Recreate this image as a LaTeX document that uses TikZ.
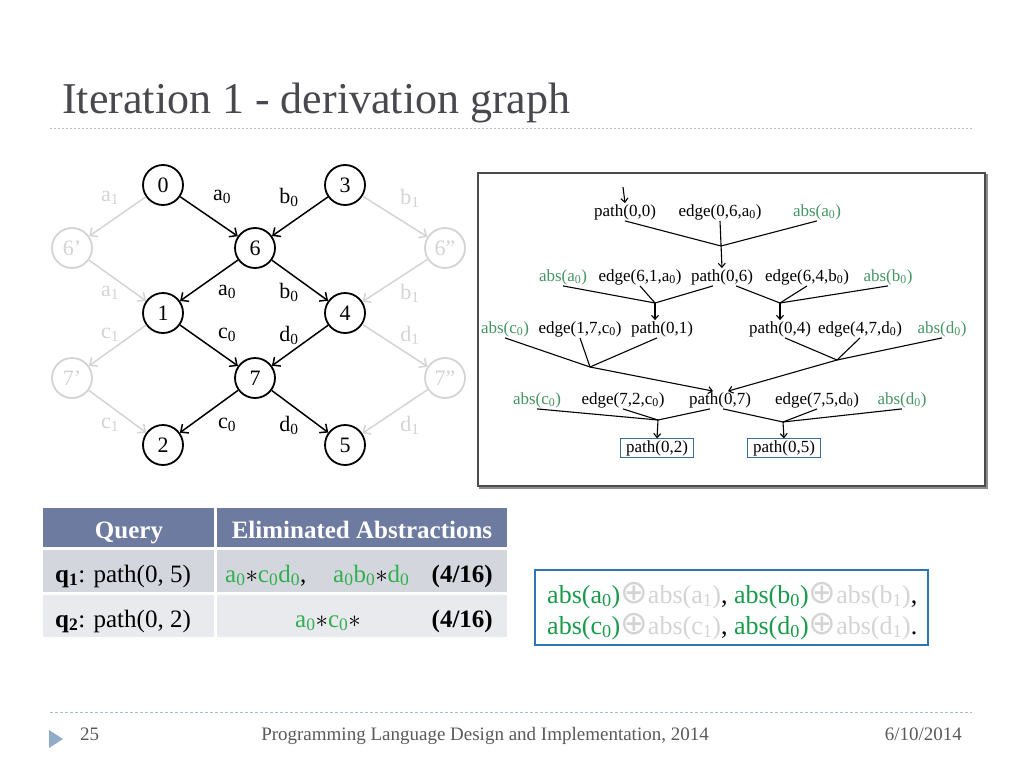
\documentclass[tikz,border=0pt]{standalone}
\usepackage{fontspec}
\setmainfont{Liberation Serif}
\newfontfamily\oplusfont{DejaVu Sans}
\usepackage{tikz}
\usetikzlibrary{arrows.meta}
\usetikzlibrary{positioning}
\colorlet{ghost}{black!17}
\definecolor{treegreen}{RGB}{70,150,100}
\definecolor{tabgreen}{RGB}{50,175,80}
\definecolor{boxgreen}{RGB}{25,155,75}
\definecolor{headblue}{RGB}{110,123,160}
\definecolor{rowa}{RGB}{212,214,221}
\definecolor{rowb}{RGB}{233,234,238}
\definecolor{boxblue}{RGB}{46,117,182}
\definecolor{leafblue}{RGB}{60,110,150}
\definecolor{titlegray}{RGB}{72,72,78}
\definecolor{footgray}{RGB}{90,90,90}
\definecolor{tri}{RGB}{145,172,200}
\newcommand{\Low}[1]{\textsubscript{#1}}
\newcommand{\Oplus}{{\oplusfont\fontsize{33}{30}\selectfont ⊕}}

\begin{document}
\begin{tikzpicture}[
x=1pt,y=-1pt,
MyNodes/.style={circle,draw=black,line width=1.8pt,minimum size=40pt,inner sep=0pt,font=\fontsize{22}{24}\selectfont},
GhostNodes/.style={MyNodes,draw=ghost,text=ghost},
MyEdges/.style={draw=black,line width=1.5pt,-{Straight Barb[length=6pt,width=11pt]}},
GhostEdges/.style={MyEdges,draw=ghost},
EdgeLabels/.style={font=\fontsize{22}{24}\selectfont},
GhostLabels/.style={EdgeLabels,text=ghost},
Facts/.style={inner sep=1pt,font=\fontsize{17}{19}\selectfont},
GreenFacts/.style={Facts,text=treegreen},
Goals/.style={Facts,draw=leafblue,line width=1pt,inner ysep=1.5pt,inner xsep=6pt},
Rules/.style={draw=black,line width=1.1pt},
RuleArrows/.style={Rules,-{Straight Barb[length=4pt,width=7pt]}},
Cells/.style={inner sep=0pt,font=\fontsize{25}{28}\selectfont},
]
\fill[white] (0,0) rectangle (1024,768);
\useasboundingbox (0,0) rectangle (1024,768);

% title and footer
\node[anchor=base west,inner sep=0pt,text=titlegray,font=\fontsize{44}{48}\selectfont] (title) at (62,113) {Iteration 1 - derivation graph};
\draw[black!25,line width=1pt,dash pattern=on 2pt off 2pt] (50,128) -- (972,128);
\draw[tri!80!black!60,line width=0.8pt,dash pattern=on 3pt off 2pt] (50,712) -- (972,712);
\fill[tri] (49,730) -- (63,739) -- (49,748) -- cycle;
\node[anchor=base west,inner sep=0pt,text=footgray,font=\fontsize{19}{21}\selectfont] (page) at (80,740) {25};
\node[anchor=base,inner sep=0pt,text=footgray,font=\fontsize{19}{21}\selectfont] (conf) at (485,740) {Programming Language Design and Implementation, 2014};
\node[anchor=base east,inner sep=0pt,text=footgray,font=\fontsize{19}{21}\selectfont] (date) at (962,740) {6/10/2014};

% graph
\node[MyNodes] (n0) at (163,185) {0};
\node[MyNodes] (n3) at (345,185) {3};
\node[MyNodes] (n6) at (255,248) {6};
\node[MyNodes] (n1) at (163,313) {1};
\node[MyNodes] (n4) at (345,313) {4};
\node[MyNodes] (n7) at (255,378) {7};
\node[MyNodes] (n2) at (163,445) {2};
\node[MyNodes] (n5) at (345,445) {5};
\node[GhostNodes] (g6a) at (72,248) {6’};
\node[GhostNodes] (g6b) at (445,248) {6”};
\node[GhostNodes] (g7a) at (72,378) {7’};
\node[GhostNodes] (g7b) at (445,378) {7”};

\draw[GhostEdges] (n0) -- (g6a);
\draw[GhostEdges] (g6a) -- (n1);
\draw[GhostEdges] (n1) -- (g7a);
\draw[GhostEdges] (g7a) -- (n2);
\draw[GhostEdges] (n3) -- (g6b);
\draw[GhostEdges] (g6b) -- (n4);
\draw[GhostEdges] (n4) -- (g7b);
\draw[GhostEdges] (g7b) -- (n5);

\draw[MyEdges] (n0) -- (n6);
\draw[MyEdges] (n3) -- (n6);
\draw[MyEdges] (n6) -- (n1);
\draw[MyEdges] (n6) -- (n4);
\draw[MyEdges] (n1) -- (n7);
\draw[MyEdges] (n4) -- (n7);
\draw[MyEdges] (n7) -- (n2);
\draw[MyEdges] (n7) -- (n5);

\node[EdgeLabels] (l06) at (222,197) {a\Low{0}};
\node[EdgeLabels] (l36) at (289,197) {b\Low{0}};
\node[EdgeLabels] (l61) at (227,292) {a\Low{0}};
\node[EdgeLabels] (l64) at (289,292) {b\Low{0}};
\node[EdgeLabels] (l17) at (227,335) {c\Low{0}};
\node[EdgeLabels] (l47) at (289,335) {d\Low{0}};
\node[EdgeLabels] (l72) at (227,425) {c\Low{0}};
\node[EdgeLabels] (l75) at (289,425) {d\Low{0}};
\node[GhostLabels] (k1) at (110,198) {a\Low{1}};
\node[GhostLabels] (k2) at (110,293) {a\Low{1}};
\node[GhostLabels] (k3) at (110,335) {c\Low{1}};
\node[GhostLabels] (k4) at (110,425) {c\Low{1}};
\node[GhostLabels] (k5) at (410,198) {b\Low{1}};
\node[GhostLabels] (k6) at (410,293) {b\Low{1}};
\node[GhostLabels] (k7) at (410,335) {d\Low{1}};
\node[GhostLabels] (k8) at (410,425) {d\Low{1}};

% derivation box
\draw[black!45,line width=2pt] (480,175) rectangle (987,488);
\draw[black!70,line width=1.2pt,fill=white] (478,173) rectangle (985,486);

\node[Facts] (p00) at (625,212) {path(0,0)};
\node[Facts] (e06) at (720,212) {edge(0,6,a\Low{0})};
\node[GreenFacts] (aA1) at (817,212) {abs(a\Low{0})};

\node[GreenFacts] (aA2) at (563,277) {abs(a\Low{0})};
\node[Facts] (e61) at (640,277) {edge(6,1,a\Low{0})};
\node[Facts] (p06) at (722,277) {path(0,6)};
\node[Facts] (e64) at (807,277) {edge(6,4,b\Low{0})};
\node[GreenFacts] (aB2) at (888,277) {abs(b\Low{0})};

\node[GreenFacts] (aC3) at (505,329) {abs(c\Low{0})};
\node[Facts] (e17) at (580,329) {edge(1,7,c\Low{0})};
\node[Facts] (p01) at (662,329) {path(0,1)};
\node[Facts] (p04) at (780,329) {path(0,4)};
\node[Facts] (e47) at (860,329) {edge(4,7,d\Low{0})};
\node[GreenFacts] (aD3) at (942,329) {abs(d\Low{0})};

\node[GreenFacts] (aC4) at (537,400) {abs(c\Low{0})};
\node[Facts] (e72) at (623,400) {edge(7,2,c\Low{0})};
\node[Facts] (p07) at (720,400) {path(0,7)};
\node[Facts] (e75) at (817,400) {edge(7,5,d\Low{0})};
\node[GreenFacts] (aD4) at (902,400) {abs(d\Low{0})};

\node[Goals] (p02) at (657,448) {path(0,2)};
\node[Goals] (p05) at (784,448) {path(0,5)};

\coordinate (S) at (623,187);
\coordinate (J1) at (721,246);
\coordinate (J2) at (655,303);
\coordinate (J3) at (780,303);
\coordinate (J4) at (590,367);
\coordinate (J5) at (837,360);
\coordinate (J6) at (658,420);
\coordinate (J7) at (783,422);

\draw[RuleArrows] (S) -- (p00.north);
\draw[Rules] (p00.south) -- (J1) -- (aA1.south);
\draw[RuleArrows] (e06.south) -- (p06.north);

\draw[Rules] (aA2.south) -- (J2) -- ([xshift=-9pt]p06.south);
\draw[Rules] (e61.south) -- (J2);
\draw[RuleArrows] (J2) -- (J2 |- p01.north);
\draw[Rules] ([xshift=14pt]p06.south) -- (J3) -- (aB2.south);
\draw[Rules] (e64.south) -- (J3);
\draw[RuleArrows] (J3) -- (J3 |- p04.north);

\draw[Rules] (aC3.south) -- (J4) -- ([xshift=-5pt]p01.south);
\draw[Rules] (e17.south) -- (J4);
\draw[RuleArrows] (J4) -- ([xshift=-7pt]p07.north);
\draw[Rules] ([xshift=5pt]p04.south) -- (J5) -- (aD3.south);
\draw[Rules] (e47.south) -- (J5);
\draw[RuleArrows] (J5) -- ([xshift=8pt]p07.north);

\draw[Rules] (aC4.south) -- (J6) -- ([xshift=-10pt]p07.south);
\draw[Rules] (e72.south) -- (J6);
\draw[RuleArrows] (J6) -- (p02.north);
\draw[Rules] ([xshift=3pt]p07.south) -- (J7) -- (aD4.south);
\draw[Rules] (e75.south) -- (J7);
\draw[RuleArrows] (J7) -- (p05.north);

% table
\fill[headblue] (43,508) rectangle (214,547);
\fill[headblue] (217,508) rectangle (507,547);
\fill[rowa] (43,550) rectangle (214,592);
\fill[rowa] (217,550) rectangle (507,592);
\fill[rowb] (43,595) rectangle (214,637);
\fill[rowb] (217,595) rectangle (507,637);

\node[Cells,anchor=base,text=white] (hq) at (129,538) {\textbf{Query}};
\node[Cells,anchor=base,text=white] (ha) at (362,538) {\textbf{Eliminated Abstractions}};
\node[Cells,anchor=base west] (q1) at (55,582) {\textbf{q\Low{1}}: path(0, 5)};
\node[Cells,anchor=base west] (q2) at (55,627) {\textbf{q\Low{2}}: path(0, 2)};
\node[Cells,anchor=base west] (r1a) at (225,582) {{\color{tabgreen}a\Low{0}}$\ast${\color{tabgreen}c\Low{0}d\Low{0}},};
\node[Cells,anchor=base west] (r1b) at (333,582) {{\color{tabgreen}a\Low{0}b\Low{0}}$\ast${\color{tabgreen}d\Low{0}}};
\node[Cells,anchor=base east] (r1c) at (493,582) {\textbf{(4/16)}};
\node[Cells,anchor=base] (r2a) at (328,627) {{\color{tabgreen}a\Low{0}}$\ast${\color{tabgreen}c\Low{0}}$\ast$};
\node[Cells,anchor=base east] (r2c) at (493,627) {\textbf{(4/16)}};

% abstraction box
\draw[boxblue,line width=1.8pt] (535,570) rectangle (928,645);
\node[Cells,anchor=base west,font=\fontsize{26}{30}\selectfont] (ab1) at (547,603) {{\color{boxgreen}abs(a\Low{0})}{\color{ghost}\Oplus abs(a\Low{1})}, {\color{boxgreen}abs(b\Low{0})}{\color{ghost}\Oplus abs(b\Low{1})},};
\node[Cells,anchor=base west,font=\fontsize{26}{30}\selectfont] (ab2) at (547,634) {{\color{boxgreen}abs(c\Low{0})}{\color{ghost}\Oplus abs(c\Low{1})}, {\color{boxgreen}abs(d\Low{0})}{\color{ghost}\Oplus abs(d\Low{1})}.};

\end{tikzpicture}
\end{document}
